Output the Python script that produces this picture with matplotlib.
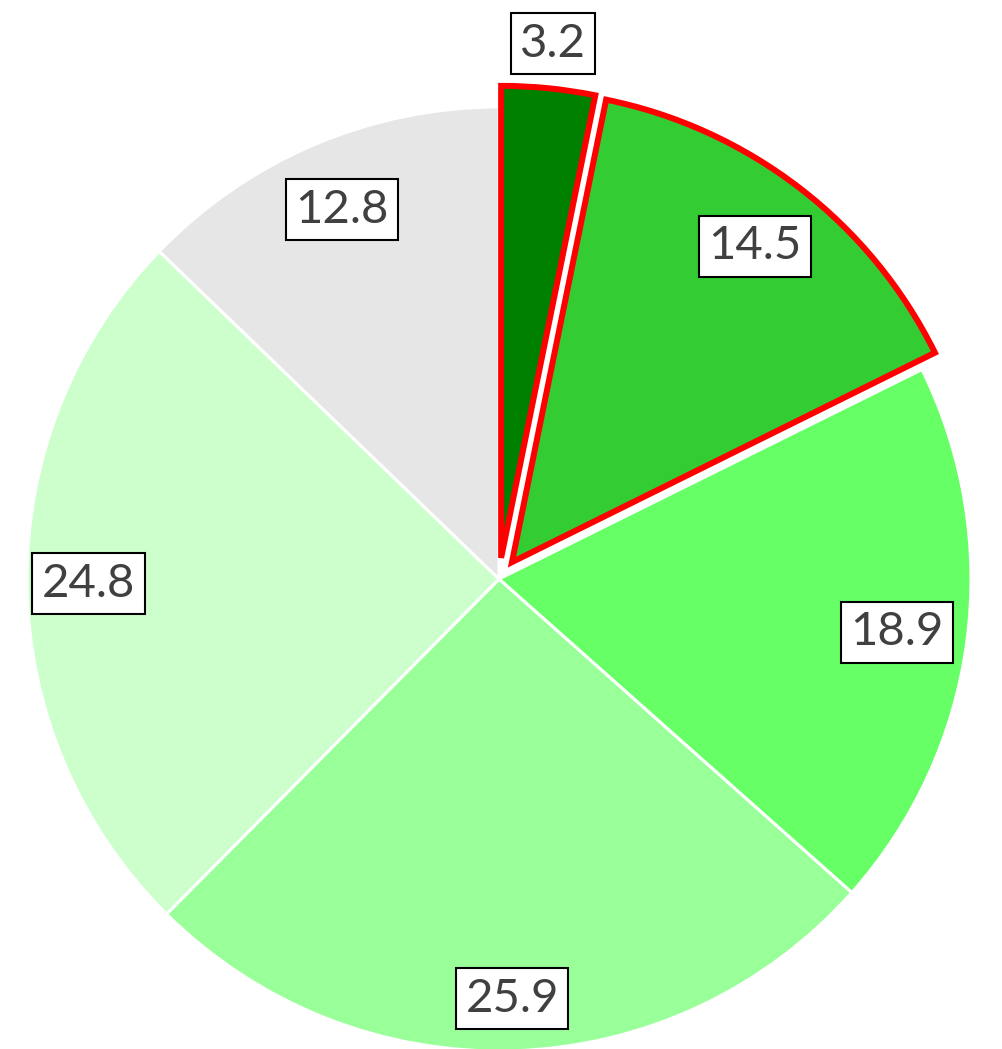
import numpy as np
import matplotlib.pyplot as plt

values = [3.2, 14.5, 18.9, 25.9, 24.8, 12.8]
labels = ['3.2', '14.5', '18.9', '25.9', '24.8', '12.8']
colors = ['#008000', '#33CC33', '#66FF66', '#99FF99', '#CCFFCC', '#E6E6E6']
highlight = [True, True, False, False, False, False]
label_dist = [1.14, 0.89, 0.85, 0.89, 0.87, 0.85]

W, H = 1002, 1049
cx, cy, R = 499, 579, 472

fig = plt.figure(figsize=(W / 100, H / 100), dpi=100)
ax = fig.add_axes([0, 0, 1, 1])

explode = [0.045 if h else 0 for h in highlight]
wedges, _ = ax.pie(values, colors=colors, startangle=90, counterclock=False,
                   explode=explode, radius=1,
                   wedgeprops=dict(edgecolor='white', linewidth=2.2))
for w, h in zip(wedges, highlight):
    if h:
        w.set_edgecolor('#FF0000')
        w.set_linewidth(4.3)
        w.set_joinstyle('miter')
        w.set_zorder(3)

for w, lab, d in zip(wedges, labels, label_dist):
    ang = np.deg2rad((w.theta1 + w.theta2) / 2)
    x, y = d * np.cos(ang), d * np.sin(ang)
    ax.text(x, y, lab, ha='center', va='center', fontsize=34, color='#404040',
            family='Lato', zorder=5,
            bbox=dict(boxstyle='square,pad=0.2', fc='white', ec='black', lw=1.5))

ax.set_aspect('equal')
ax.set_xlim(-cx / R, (W - cx) / R)
ax.set_ylim(-(H - cy) / R, cy / R)
ax.axis('off')

plt.savefig('out.png', dpi=100)
